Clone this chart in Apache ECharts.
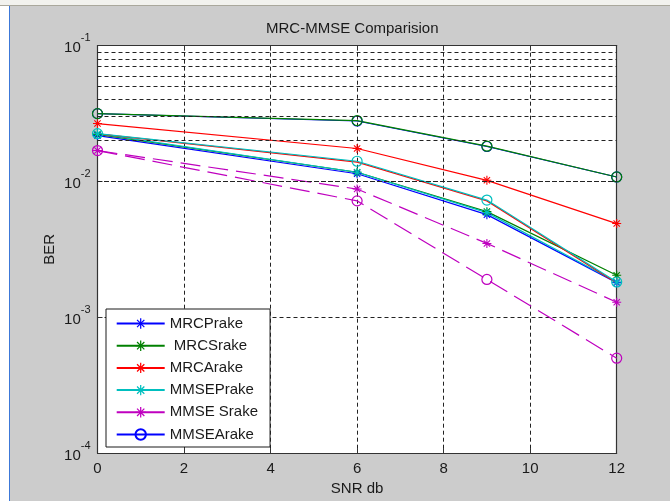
<!DOCTYPE html>
<html>
<head>
<meta charset="utf-8">
<style>
  html, body { margin: 0; padding: 0; background: #cccccc; }
  #chart { width: 670px; height: 501px; }
</style>
<script src="https://cdn.jsdelivr.net/npm/echarts@6/dist/echarts.min.js"></script>
</head>
<body>
<div id="chart"></div>
<script>
// SNR points (dB)
const snr = [0, 6, 9, 12];

// BER curves, star-marked receivers
const mrcPrake   = [0.0218, 0.0114, 0.0057, 0.00180];
const mrcSrake   = [0.0222, 0.0117, 0.0060, 0.00204];
const mrcArake   = [0.0267, 0.0175, 0.0102, 0.00490];
const mmsePrake  = [0.0225, 0.0117, 0.0059, 0.00182];
const mmseSrake  = [0.0169, 0.0088, 0.0035, 0.00129];

// BER curves, circle-marked receivers
const mmseArake  = [0.0316, 0.0279, 0.0181, 0.0108];
const greenCirc  = [0.0316, 0.0281, 0.0182, 0.0108];
const redCirc    = [0.0224, 0.0139, 0.0072, 0.00179];
const cyanCirc   = [0.0225, 0.0141, 0.0073, 0.00182];
const magCirc    = [0.0169, 0.0072, 0.0019, 0.00050];

// axis ticks
const xTicks = [0, 2, 4, 6, 8, 10, 12];
const yDecades = [1e-4, 1e-3, 1e-2, 1e-1];
const minorMantissa = [2, 3, 4, 5, 6, 7, 8, 9];

const FONT = '"Liberation Sans", Arial, sans-serif';
const GRID_DASH = [4, 3];

// asterisk marker drawn as four filled bars
const STAR = 'path://M4.4,0L5.6,0L5.6,10L4.4,10Z' +
  'M0,4.4L10,4.4L10,5.6L0,5.6Z' +
  'M1.08,1.92L1.92,1.08L8.92,8.08L8.08,8.92Z' +
  'M1.08,8.08L8.08,1.08L8.92,1.92L1.92,8.92Z';

function pairs(vals) { return snr.map((x, i) => [x, vals[i]]); }

function starSeries(name, color, vals, dashed) {
  return {
    name, type: 'line', data: pairs(vals),
    symbol: STAR, symbolSize: 9, showSymbol: true,
    lineStyle: { color, width: 1.2, type: dashed ? [20, 8] : 'solid' },
    itemStyle: { color },
    emphasis: { disabled: true }, animation: false
  };
}
function circSeries(name, color, vals, dashed, marker) {
  return {
    name, type: 'line', data: pairs(vals),
    symbol: marker === false ? 'none' : 'circle', symbolSize: 10, showSymbol: marker !== false,
    lineStyle: { color, width: 1.2, type: dashed ? [20, 8] : 'solid' },
    itemStyle: { color: 'rgba(0,0,0,0)', borderColor: color, borderWidth: 1.2 },
    emphasis: { disabled: true }, animation: false
  };
}

// minor log gridlines (2..9 within each decade)
const minorGrid = [];
yDecades.slice(0, 3).forEach(d => minorMantissa.forEach(m => minorGrid.push(+(m * d).toPrecision(3))));

const C = { b: '#0000ff', g: '#008000', r: '#ff0000', c: '#00bfbf', m: '#bf00bf' };

const chart = echarts.init(document.getElementById('chart'), null, { renderer: 'canvas' });

const supLabel = v => {
  const e = Math.round(Math.log10(v));
  return '{b|10}{s|' + e + '}';
};

chart.setOption({
  backgroundColor: '#cccccc',
  animation: false,
  title: {
    text: 'MRC-MMSE Comparision',
    left: 266, top: 21, padding: 0,
    textStyle: { fontFamily: FONT, fontSize: 15, fontWeight: 'normal', color: '#1a1a1a' }
  },
  graphic: [
    { type: 'rect', shape: { x: 0, y: 0, width: 9, height: 501 }, style: { fill: '#ffffff' }, silent: true },
    { type: 'line', shape: { x1: 9.5, y1: 0, x2: 9.5, y2: 501 }, style: { stroke: '#3c78d8', lineWidth: 1 }, silent: true },
    { type: 'rect', shape: { x: 0, y: 0, width: 670, height: 5 }, style: { fill: '#f2f2ee' }, silent: true },
    { type: 'line', shape: { x1: 0, y1: 5.5, x2: 670, y2: 5.5 }, style: { stroke: '#aaa89c', lineWidth: 1 }, silent: true }
  ],
  grid: { left: 97.5, top: 45.7, right: 53.3, bottom: 46.7, show: true, backgroundColor: '#ffffff', borderWidth: 0 },
  legend: {
    orient: 'vertical', left: 106, top: 309,
    padding: [7, 12, 5, 9.7],
    backgroundColor: '#ffffff', borderColor: '#1a1a1a', borderWidth: 1,
    itemWidth: 48, itemHeight: 13, itemGap: 7.2,
    textStyle: { fontFamily: FONT, fontSize: 15, color: '#1a1a1a' },
    data: [
      { name: 'MRCPrake' },
      { name: ' MRCSrake' },
      { name: 'MRCArake' },
      { name: 'MMSEPrake' },
      { name: 'MMSE Srake', lineStyle: { type: 'solid' } },
      { name: 'MMSEArake' }
    ],
    selectedMode: false
  },
  xAxis: [{
    type: 'value', min: 0, max: 12, interval: 2,
    name: 'SNR db', nameLocation: 'middle', nameGap: 27,
    nameTextStyle: { fontFamily: FONT, fontSize: 15, color: '#1a1a1a' },
    axisLine: { show: true, onZero: false, lineStyle: { color: '#333', width: 1.2 } },
    axisTick: { show: true, inside: true, length: 5, lineStyle: { color: '#333' } },
    axisLabel: { fontFamily: FONT, fontSize: 15, color: '#1a1a1a', margin: 8,
      formatter: v => xTicks.includes(v) ? String(v) : '' },
    splitLine: { show: true, lineStyle: { color: '#222', type: GRID_DASH, width: 1 } }
  }, {
    type: 'value', min: 0, max: 12, interval: 2, position: 'top',
    axisLine: { show: true, onZero: false, lineStyle: { color: '#333', width: 1.2 } },
    axisTick: { show: true, inside: true, length: 5, lineStyle: { color: '#333' } },
    axisLabel: { show: false }, splitLine: { show: false }
  }],
  yAxis: [{
    type: 'log', logBase: 10, min: 1e-4, max: 1e-1,
    name: 'BER', nameLocation: 'middle', nameGap: 40, nameRotate: 90, nameMoveOverlap: false,
    nameTextStyle: { fontFamily: FONT, fontSize: 15, color: '#1a1a1a' },
    axisLine: { show: true, onZero: false, lineStyle: { color: '#333', width: 1.2 } },
    axisTick: { show: true, inside: true, length: 5, lineStyle: { color: '#333' } },
    axisLabel: {
      margin: 7, formatter: supLabel, padding: [0, 0, 3, 0],
      rich: {
        b: { fontFamily: FONT, fontSize: 15, color: '#1a1a1a', lineHeight: 23, verticalAlign: 'bottom' },
        s: { fontFamily: FONT, fontSize: 11, color: '#1a1a1a', lineHeight: 23, verticalAlign: 'top' }
      }
    },
    splitLine: { show: true, lineStyle: { color: '#222', type: GRID_DASH, width: 1 } }
  }, {
    type: 'log', logBase: 10, min: 1e-4, max: 1e-1, position: 'right',
    axisLine: { show: true, onZero: false, lineStyle: { color: '#333', width: 1.2 } },
    axisTick: { show: true, inside: true, length: 5, lineStyle: { color: '#333' } },
    axisLabel: { show: false }, splitLine: { show: false }
  }],
  series: [
    {
      name: 'grid', type: 'line', data: [], z: 1, silent: true,
      markLine: {
        silent: true, symbol: ['none', 'none'], animation: false,
        label: { show: false },
        lineStyle: { color: '#222', type: GRID_DASH, width: 1 },
        emphasis: { disabled: true },
        data: minorGrid.map(v => ({ yAxis: v }))
      }
    },
    starSeries('MRCPrake', C.b, mrcPrake, false),
    starSeries(' MRCSrake', C.g, mrcSrake, false),
    starSeries('MRCArake', C.r, mrcArake, false),
    starSeries('MMSEPrake', C.c, mmsePrake, false),
    starSeries('MMSE Srake', C.m, mmseSrake, true),
    circSeries('MMSEArake', C.b, mmseArake, false),
    circSeries('MMSEArake g', C.g, greenCirc, false),
    circSeries('MRCArake o', C.r, redCirc, false, false),
    circSeries('MMSEPrake o', C.c, cyanCirc, false),
    circSeries('MMSE Srake o', C.m, magCirc, true)
  ]
});
</script>
</body>
</html>
